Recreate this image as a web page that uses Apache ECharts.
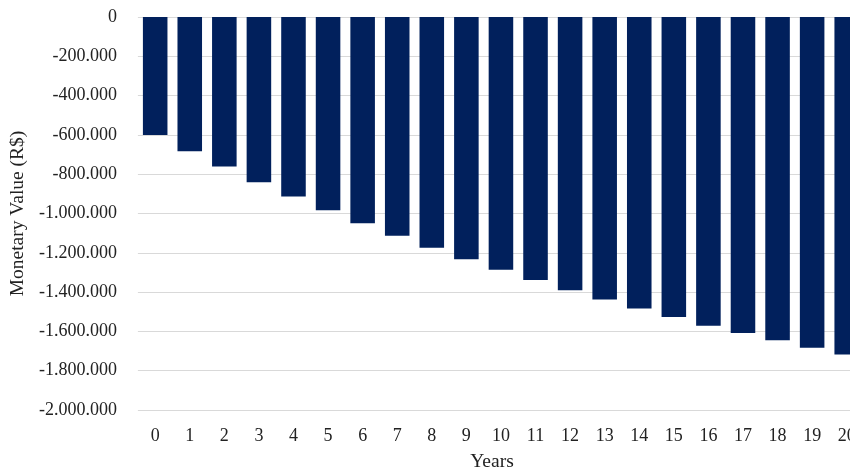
<!DOCTYPE html>
<html>
<head>
<meta charset="utf-8">
<script src="https://cdn.jsdelivr.net/npm/echarts@6/dist/echarts.min.js"></script>
<style>
  html, body { margin: 0; padding: 0; background: #ffffff; overflow: hidden; }
  /* the plot runs slightly past the right edge of the page, so the last bar is cut */
  #chart { width: 864px; height: 469px; }
</style>
</head>
<body>
<div id="chart"></div>
<script>
// Years of the projection
const years = ['0','1','2','3','4','5','6','7','8','9','10','11','12','13','14','15','16','17','18','19','20'];
// Cumulative monetary value per year (R$)
const values = [-600000, -683000, -761000, -841000, -914000, -984000, -1050000, -1113000, -1174000, -1233000,
                -1286000, -1338000, -1391000, -1438000, -1484000, -1527000, -1571000, -1608000, -1645000, -1683000, -1717000];
// Y axis range and step
const yMin = -2000000;
const yMax = 0;
const yStep = 200000;

const serif = '"Liberation Serif", "DejaVu Serif", serif';
const fontSize = 18;
const nameSize = 19.5;

// Brazilian-style thousand separators: -1.200.000
function fmt(v) {
  const s = Math.abs(v).toString().replace(/\B(?=(\d{3})+(?!\d))/g, '.');
  return (v < 0 ? '-' : '') + s;
}

const chart = echarts.init(document.getElementById('chart'), null, { renderer: 'canvas' });
chart.setOption({
  animation: false,
  backgroundColor: '#ffffff',
  grid: { left: 134, right: 0, top: 17, bottom: 59, containLabel: false },
  xAxis: {
    type: 'category',
    data: years,
    position: 'bottom',
    axisLine: { show: false },
    axisTick: { show: false },
    axisLabel: { color: '#222', fontFamily: serif, fontSize: fontSize, margin: 17 }
  },
  yAxis: {
    type: 'value',
    min: yMin,
    max: yMax,
    interval: yStep,
    name: 'Monetary Value (R$)',
    nameLocation: 'middle',
    nameGap: 104,
    nameRotate: 90,
    nameTextStyle: { color: '#222', fontFamily: serif, fontSize: nameSize },
    axisLine: { show: false },
    axisTick: { show: false },
    axisLabel: { color: '#222', fontFamily: serif, fontSize: fontSize, margin: 21, formatter: fmt },
    splitLine: { lineStyle: { color: '#d9d9d9', width: 1 } }
  },
  graphic: [{
    type: 'text',
    x: 492,
    y: 462,
    style: {
      text: 'Years', font: nameSize + 'px ' + serif, fill: '#222',
      align: 'center', verticalAlign: 'middle'
    }
  }],
  series: [{
    type: 'bar',
    data: values,
    barWidth: '71%',
    itemStyle: { color: '#01205C' }
  }]
});
</script>
</body>
</html>
